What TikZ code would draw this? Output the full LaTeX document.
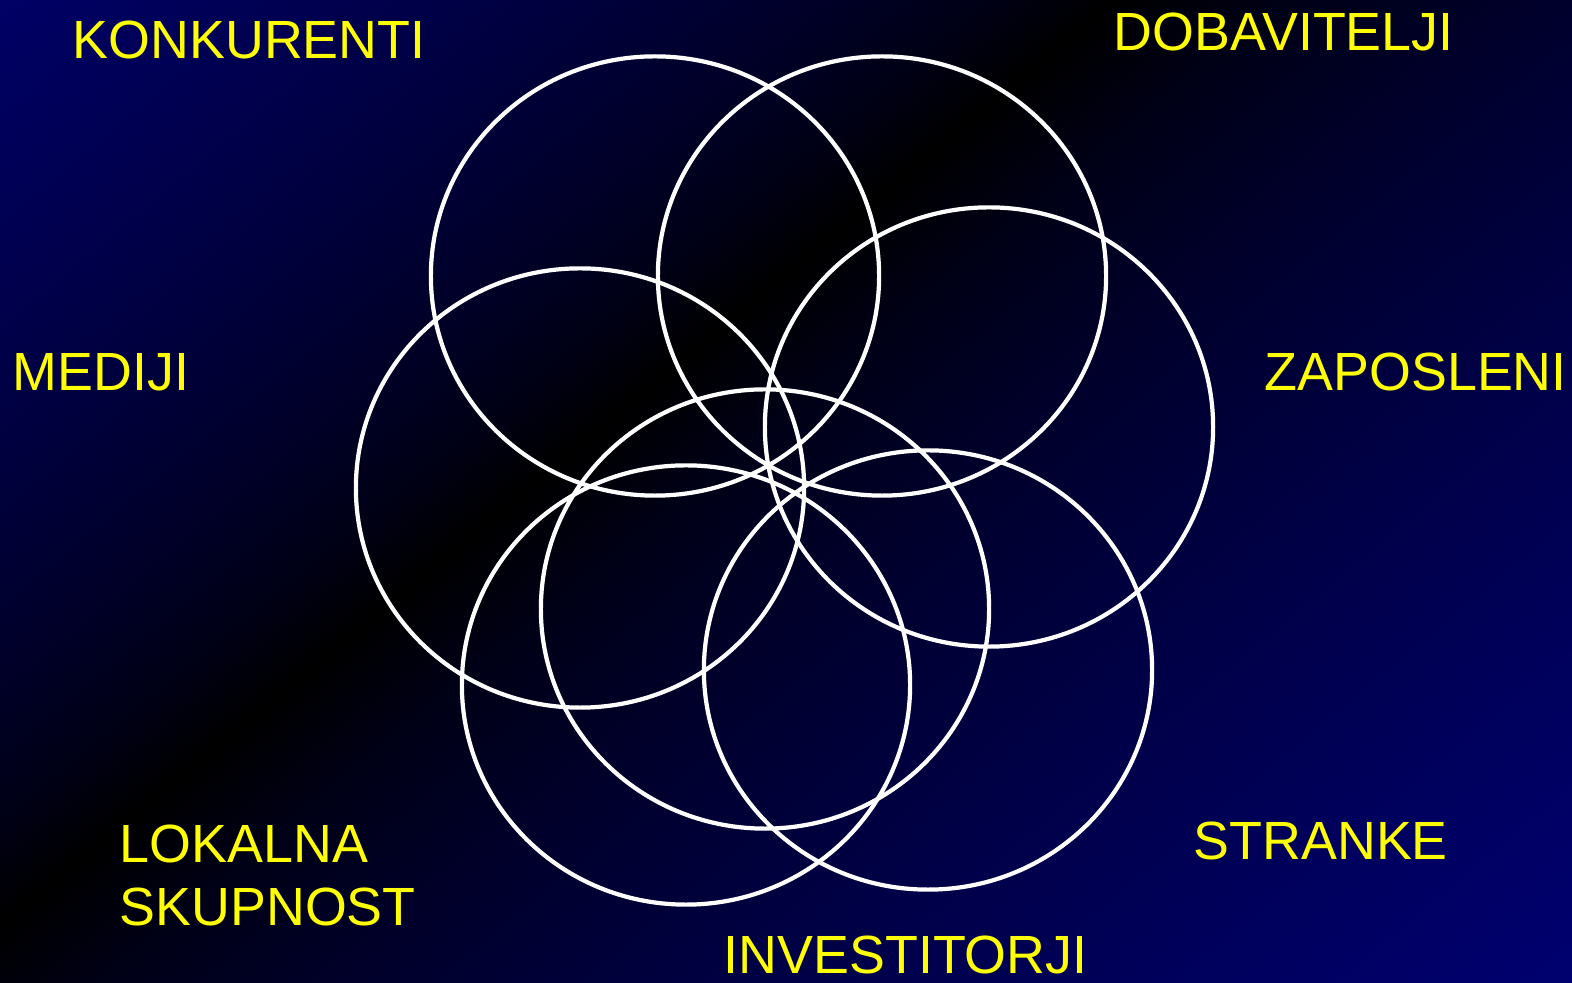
\documentclass[tikz,border=0pt]{standalone}
\usepackage{fontspec}
\setmainfont{Liberation Sans}
\usepackage{tikz}
\usetikzlibrary{shapes.geometric}
\usepackage{xcolor}
\definecolor{lblyellow}{RGB}{255,255,0}

% navy -- black -- navy, black line off centre
\pgfdeclareverticalshading{bgdiag}{100bp}{rgb(0bp)=(0,0,0.439); rgb(25bp)=(0,0,0.439);
  rgb(32.45bp)=(0,0,0.361); rgb(39.9bp)=(0,0,0.271); rgb(47.35bp)=(0,0,0.165);
  rgb(51.82bp)=(0,0,0.086); rgb(54.8bp)=(0,0,0);
  rgb(56.8bp)=(0,0,0.078); rgb(59.85bp)=(0,0,0.153); rgb(64.9bp)=(0,0,0.247);
  rgb(69.95bp)=(0,0,0.325); rgb(75bp)=(0,0,0.4); rgb(100bp)=(0,0,0.4)}

\tikzset{
  ring/.style={ellipse,draw=white,line width=1.2pt,minimum width=4.48cm,minimum height=4.39cm,inner sep=0pt},
  lbl/.style={font=\fontsize{15.3}{18.1}\selectfont,text=lblyellow,anchor=base west,inner sep=0pt,align=left}
}

\begin{document}
\begin{tikzpicture}[x=0.01cm,y=-0.01cm]
  \useasboundingbox (0,0) rectangle (1572,983);
  % background
  \begin{scope}
    \clip (0,0) rectangle (1572,983);
    \fill[black] (0,0) rectangle (1572,983);
    \begin{scope}[transform canvas={shift={(5.57cm,-4.625cm)},rotate=39.7}]
      \shade[shading=bgdiag] (-20cm,-10.49cm) rectangle (20cm,7.12cm);
    \end{scope}
  \end{scope}
  % seven rings
  \foreach \p [count=\i] in {(655,276),(882,276),(989,427),(928,670),(686,685),(580,488),(765,609)}
    \node[ring] (ring\i) at \p {};
  % labels
  \node[lbl] (konkurenti) at (72,59) {KONKURENTI};
  \node[lbl] (dobavitelji) at (1113,51) {DOBAVITELJI};
  \node[lbl] (mediji) at (12,391) {MEDIJI};
  \node[lbl] (zaposleni) at (1264,391) {ZAPOSLENI};
  \node[lbl] (lokalna) at (119,926) {LOKALNA\\SKUPNOST};
  \node[lbl] (stranke) at (1193,860) {STRANKE};
  \node[lbl] (investitorji) at (723,974) {INVESTITORJI};
\end{tikzpicture}
\end{document}
